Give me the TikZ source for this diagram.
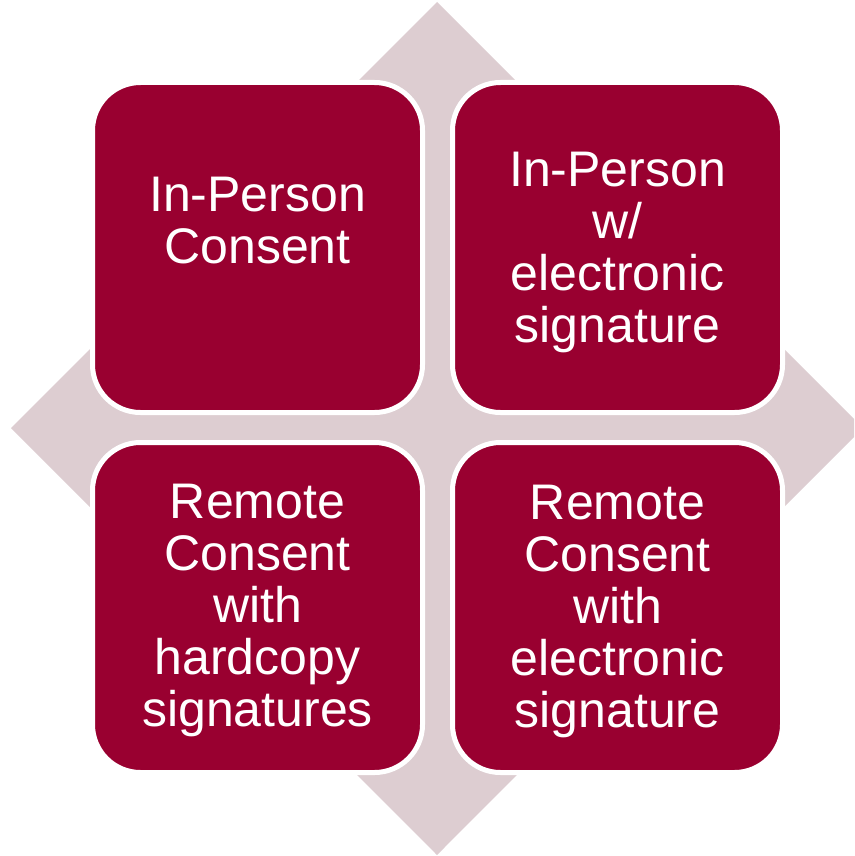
\documentclass[tikz,border=0pt]{standalone}
\usepackage{fontspec}
\setmainfont{Liberation Sans}
\definecolor{boxred}{RGB}{153,0,48}
\definecolor{diamondgrey}{RGB}{221,205,209}
\begin{document}
\begin{tikzpicture}[x=1pt,y=-1pt,
  quad/.style={draw=white, line width=5pt, fill=boxred, rounded corners=48pt,
               minimum width=330pt, minimum height=330pt, inner sep=0pt},
  lbl/.style={text=white, align=center, font=\fontsize{50}{52}\selectfont, inner sep=0pt}]
\useasboundingbox (0,0) rectangle (854,856);
\clip (0,0) rectangle (854,856);
% background diamond
\fill[diamondgrey] (437,2) -- (11,428) -- (437,855) -- (863,428) -- cycle;
% four quadrant boxes
\node[quad] (tl) at (257.5,247.5) {};
\node[quad] (tr) at (617.5,247.5) {};
\node[quad] (bl) at (257.5,607.5) {};
\node[quad] (br) at (617.5,607.5) {};
% labels
\node[lbl, yshift=27pt] (tltext) at (tl.center) {In-Person\\Consent};
\node[lbl, yshift=-5pt] (trtext) at (tr.center) {In-Person\\w/\\electronic\\signature};
\node[lbl, yshift=-3pt] (bltext) at (bl.center) {Remote\\Consent\\with\\hardcopy\\signatures};
\node[lbl, yshift=-4pt] (brtext) at (br.center) {Remote\\Consent\\with\\electronic\\signature};
\end{tikzpicture}
\end{document}
